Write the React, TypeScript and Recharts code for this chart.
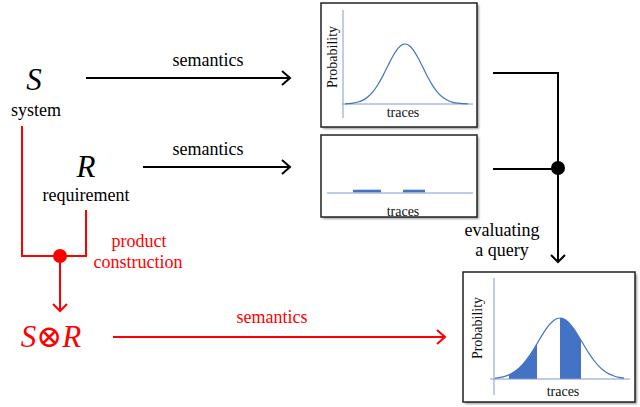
import { LineChart, Line, ComposedChart, Area, XAxis, YAxis, ReferenceLine, ReferenceArea } from 'recharts'

// system semantics: distribution over traces (top box)
const sysX = [2, 5, 10, 15, 20, 25, 30, 35, 40, 45, 50, 55, 60, 62, 65, 70, 75, 80, 85, 90, 95, 100, 105, 110, 115, 120, 125]
const sysP = [0.2, 0.4, 0.9, 2.0, 3.9, 7.3, 12.4, 19.5, 28.4, 38.4, 48.0, 55.6, 59.6, 60, 59.2, 54.4, 46.2, 36.4, 26.5, 17.9, 11.2, 6.5, 3.5, 1.7, 0.8, 0.3, 0.1]

// requirement semantics: accepted trace sets
const reqFrom = [26, 76]
const reqTo = [54, 98]
const reqHeight = 1.1

// product semantics: distribution with the accepted parts shaded
const prodX = [1, 5, 10, 15, 20, 25, 30, 35, 40, 43, 45, 50, 55, 60, 66, 70, 75, 80, 85, 87, 90, 95, 100, 105, 110, 115, 120, 125, 130]
const prodP = [0.7, 1.3, 2.4, 4.1, 6.9, 10.7, 16.0, 22.6, 30.3, 35.3, 38.7, 46.8, 53.8, 58.8, 61, 60.0, 56.1, 49.8, 42.0, 38.7, 33.7, 25.6, 18.5, 12.7, 8.3, 5.1, 3.0, 1.7, 0.9]
const shadeFrom = [15, 66]
const shadeTo = [43, 87]

const BLUE = '#4472c4'
const AXIS = '#7f9ad6'
const RED = '#ff0000'
const FONT = 'Liberation Serif, DejaVu Serif, serif'

const sysData = sysX.map((x, i) => ({ x, p: sysP[i] }))
const prodData = prodX.map((x, i) => ({
  x,
  p: prodP[i],
  s1: x >= shadeFrom[0] && x <= shadeTo[0] ? prodP[i] : null,
  s2: x >= shadeFrom[1] && x <= shadeTo[1] ? prodP[i] : null,
}))
const reqData = [{ x: 0, y: 0 }, { x: 146, y: 0 }]

function Box({ x, y, w, h }: { x: number; y: number; w: number; h: number }) {
  return (
    <g>
      <rect x={x + 2} y={y + 2} width={w} height={h} fill="#9a9a9a" filter="url(#sh)" />
      <rect x={x} y={y} width={w} height={h} fill="#fff" stroke="#222" strokeWidth={1.5} />
    </g>
  )
}

function T({ x, y, size = 18, color = '#000', italic = false, children }: any) {
  return (
    <text x={x} y={y} textAnchor="middle" fontFamily={FONT} fontSize={size} fill={color} fontStyle={italic ? 'italic' : 'normal'}>
      {children}
    </text>
  )
}

export default function App() {
  return (
    <div style={{ position: 'absolute', left: 0, top: 0, width: 640, height: 407, background: '#fff', overflow: 'hidden', fontFamily: FONT }}>
      <svg width={640} height={407} style={{ position: 'absolute', left: 0, top: 0 }} fontFamily={FONT}>
        <defs>
          <filter id="sh" x="-10%" y="-10%" width="130%" height="130%">
            <feGaussianBlur stdDeviation="1.2" />
          </filter>
        </defs>
        <Box x={321} y={3} w={156} h={124} />
        <Box x={321} y={135} w={156} h={82} />
        <Box x={463} y={272} w={172} h={130} />

        {/* black semantics arrows */}
        <g stroke="#000" strokeWidth={2} fill="none">
          <path d="M86 78 H290" />
          <path d="M282 71 L290 78 L282 85" />
          <path d="M143 167 H290" />
          <path d="M282 160 L290 167 L282 174" />
          <path d="M493 73 H558 V262" />
          <path d="M493 169 H558" />
          <path d="M551 255 L558 262 L565 255" />
        </g>
        <circle cx={558} cy={168} r={7} fill="#000" />

        {/* red product construction */}
        <g stroke={RED} strokeWidth={2} fill="none">
          <path d="M22 126 V256 H86 V210" />
          <path d="M60 256 V311" />
          <path d="M53 304 L60 311 L67 304" />
          <path d="M113 337 H445" />
          <path d="M437 330 L445 337 L437 344" />
        </g>
        <circle cx={60} cy={256} r={7} fill={RED} />

        <T x={34} y={90} size={31} italic>S</T>
        <T x={36} y={116}>system</T>
        <T x={86} y={177} size={31} italic>R</T>
        <T x={86} y={201}>requirement</T>
        <T x={208} y={66}>semantics</T>
        <T x={208} y={155}>semantics</T>
        <T x={272} y={323} color={RED}>semantics</T>
        <T x={139} y={247} color={RED}>product</T>
        <T x={138} y={268} color={RED}>construction</T>
        <T x={51} y={347} size={31} color={RED} italic>S⊗R</T>
        <T x={502} y={236}>evaluating</T>
        <T x={502} y={256}>a query</T>

        <g fontFamily={FONT} fontSize={14} fill="#111">
          <text transform="translate(337 57) rotate(-90)" textAnchor="middle">Probability</text>
          <text x={403} y={117} textAnchor="middle">traces</text>
          <text x={403} y={216} textAnchor="middle">traces</text>
          <text transform="translate(482 328) rotate(-90)" textAnchor="middle">Probability</text>
          <text x={563} y={396} textAnchor="middle">traces</text>
        </g>
      </svg>

      <div style={{ position: 'absolute', left: 321, top: 3 }}>
        <LineChart width={156} height={124} data={sysData} margin={{ top: 7, right: 4, left: 21, bottom: 9 }}>
          <XAxis type="number" dataKey="x" domain={[-1, 130]} hide />
          <YAxis type="number" domain={[-14, 94]} hide />
          <ReferenceLine x={0} stroke={AXIS} strokeWidth={1} />
          <ReferenceLine y={0} stroke={AXIS} strokeWidth={1} />
          <Line type="monotone" dataKey="p" stroke={BLUE} strokeWidth={1.2} dot={false} isAnimationActive={false} />
        </LineChart>
      </div>

      <div style={{ position: 'absolute', left: 321, top: 135 }}>
        <ComposedChart width={156} height={82} data={reqData} margin={{ top: 28, right: 4, left: 6, bottom: 24 }}>
          <XAxis type="number" dataKey="x" domain={[0, 146]} hide />
          <YAxis type="number" domain={[0, 10]} hide />
          <Line type="linear" dataKey="y" stroke={AXIS} strokeWidth={1} dot={false} isAnimationActive={false} />
          {reqFrom.map((f, i) => (
            <ReferenceArea key={i} x1={f} x2={reqTo[i]} y1={0.2} y2={reqHeight} fill={BLUE} fillOpacity={1} stroke="none" />
          ))}
        </ComposedChart>
      </div>

      <div style={{ position: 'absolute', left: 463, top: 272 }}>
        <ComposedChart width={172} height={130} data={prodData} margin={{ top: 6, right: 5, left: 27, bottom: 7 }}>
          <XAxis type="number" dataKey="x" domain={[-4, 136]} hide />
          <YAxis type="number" domain={[-16, 101]} hide />
          <ReferenceLine x={0} stroke={AXIS} strokeWidth={1} />
          <ReferenceLine y={0} stroke={AXIS} strokeWidth={1} />
          <Area type="monotone" dataKey="s1" stroke="none" fill={BLUE} fillOpacity={1} baseValue={0} isAnimationActive={false} />
          <Area type="monotone" dataKey="s2" stroke="none" fill={BLUE} fillOpacity={1} baseValue={0} isAnimationActive={false} />
          <Line type="monotone" dataKey="p" stroke={BLUE} strokeWidth={1.2} dot={false} isAnimationActive={false} />
        </ComposedChart>
      </div>
    </div>
  )
}
